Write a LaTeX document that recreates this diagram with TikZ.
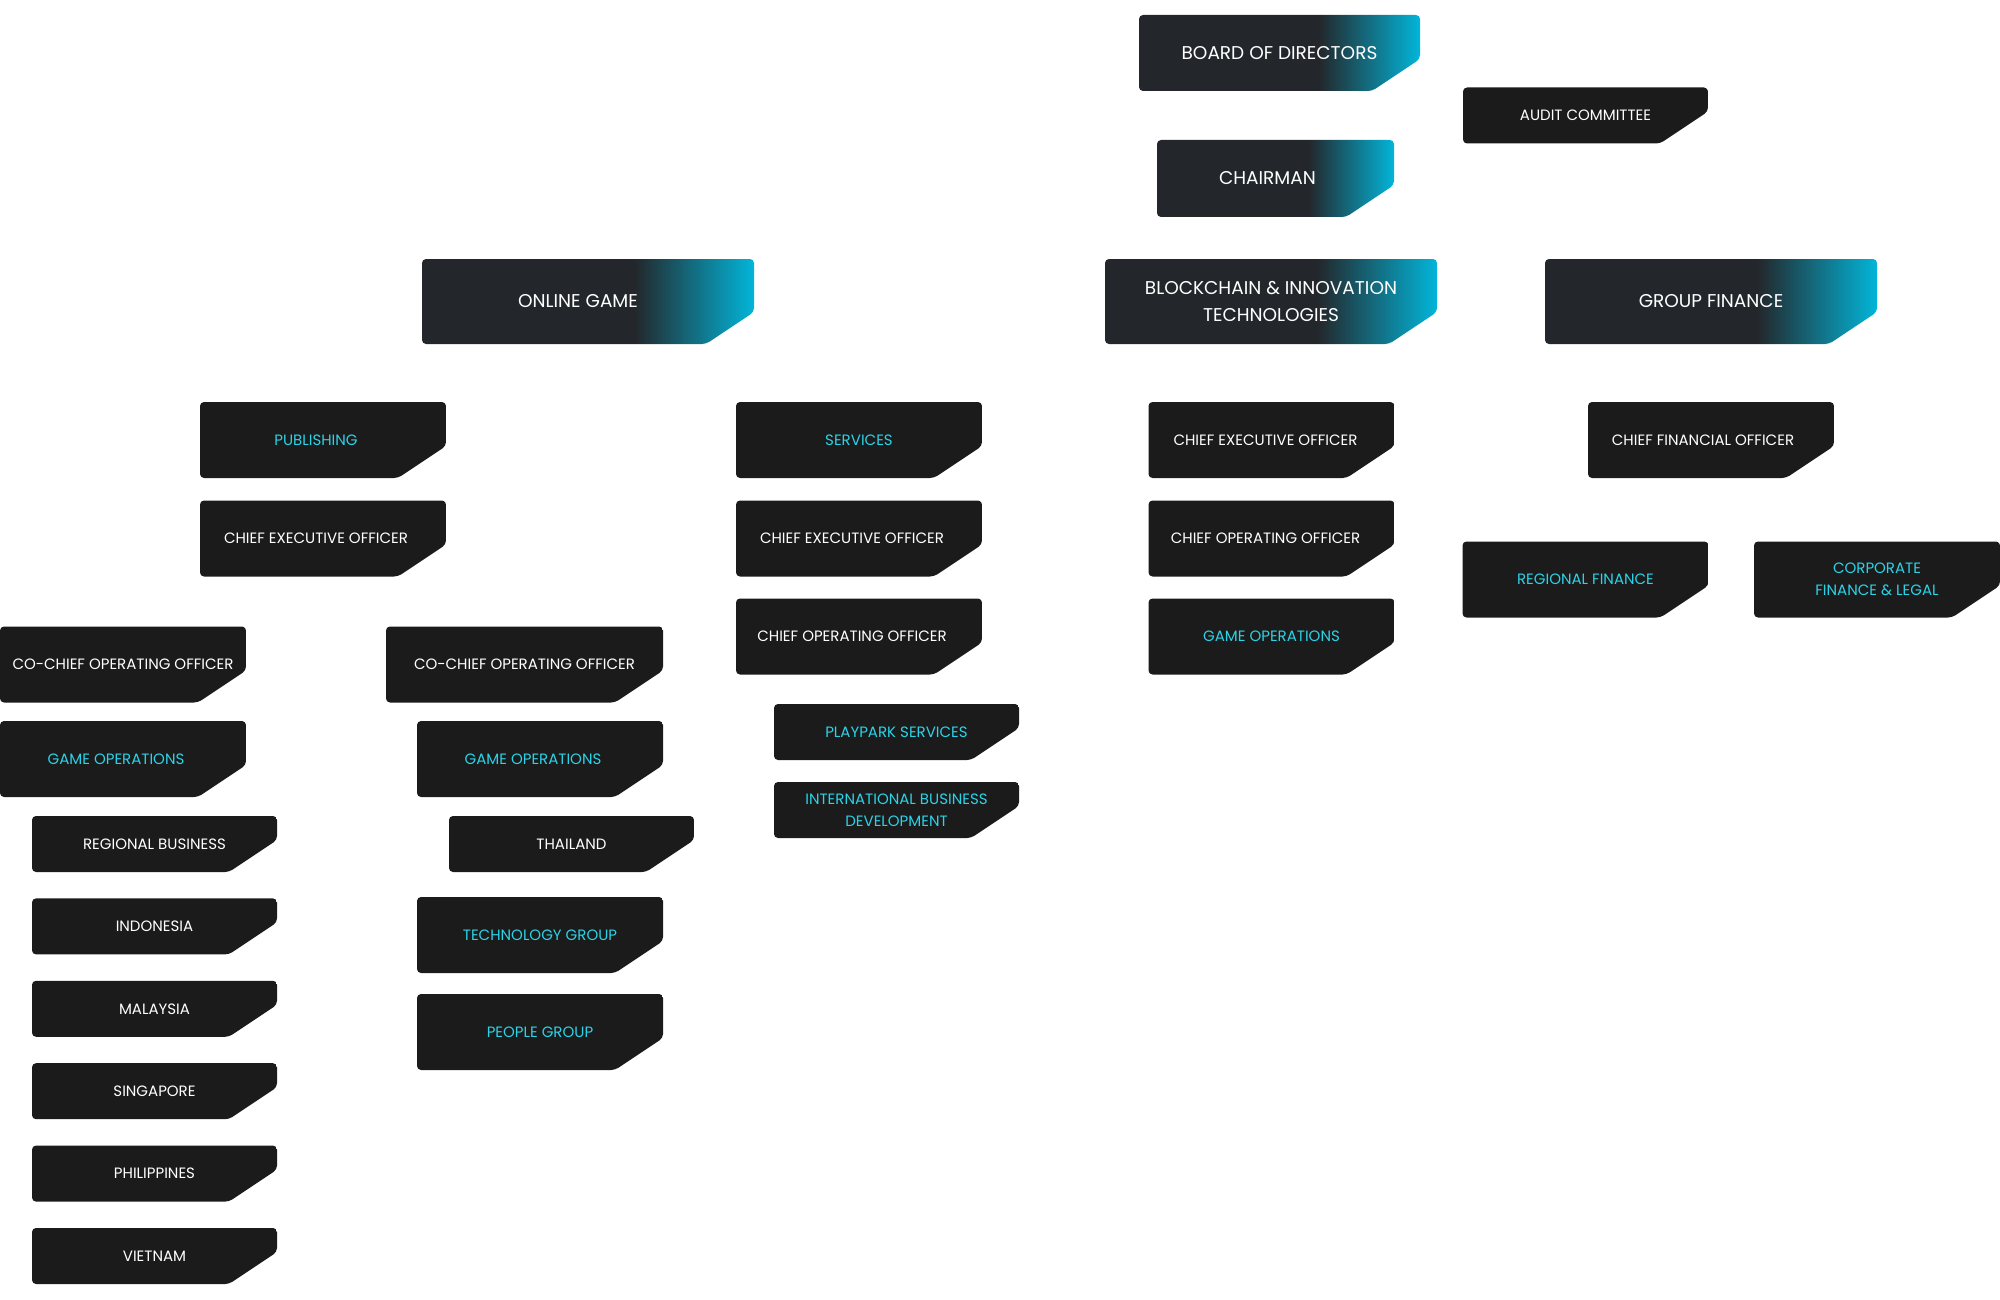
\documentclass[tikz,border=0pt]{standalone}
\usepackage{fontspec}
\setmainfont{Poppins}
\usetikzlibrary{positioning}

\definecolor{unitfill}{HTML}{1B1B1B}
\definecolor{headdark}{HTML}{23272B}
\definecolor{headcyan}{HTML}{02B5D9}
\definecolor{tealtext}{HTML}{2BD3E8}
\pgfdeclarehorizontalshading{bluetip}{100bp}{color(0bp)=(headdark); color(25bp)=(headdark); color(57bp)=(headdark); color(75bp)=(headcyan); color(100bp)=(headcyan)}

\begin{document}
\begin{tikzpicture}[
    x=1pt, y=-1pt,
    unit/.style={inner sep=0pt, rounded corners=4pt, minimum width=246pt, minimum height=76pt,
        font=\fontsize{15}{22}\selectfont, text=white,
        path picture={\fill[unitfill] (path picture bounding box.north west) -- (path picture bounding box.north east)
            -- ([yshift=32pt]path picture bounding box.south east) -- ([xshift=-48pt]path picture bounding box.south east)
            -- (path picture bounding box.south west) -- cycle;}},
    short/.style={unit, minimum width=245pt, minimum height=56pt},
    head/.style={unit, minimum width=332pt, minimum height=85pt, font=\fontsize{18.5}{27}\selectfont,
        path picture={\shade[shading=bluetip] (path picture bounding box.north west) -- (path picture bounding box.north east)
            -- ([yshift=32pt]path picture bounding box.south east) -- ([xshift=-48pt]path picture bounding box.south east)
            -- (path picture bounding box.south west) -- cycle;}},
    hl/.style={text=tealtext},
    nudge/.style={execute at end node={\hspace*{#1pt}}},
]
\useasboundingbox (0,0) rectangle (2000,1300);

% Board level
\node[head, minimum width=281pt, minimum height=76pt] (board) at (1279.5,53) {BOARD OF DIRECTORS};
\node[short] (audit) at (1585.5,115.5) {AUDIT COMMITTEE};
\node[head, minimum width=237pt, minimum height=77pt, nudge=16] (chairman) at (1275.5,178.5) {CHAIRMAN};

% Business groups
\node[head, nudge=20] (onlinegame) at (588,301.5) {ONLINE GAME};
\node[head, align=center] (blockchain) at (1271,301.5) {BLOCKCHAIN \& INNOVATION\\TECHNOLOGIES};
\node[head] (groupfin) at (1711,301.5) {GROUP FINANCE};

% Online game: publishing
\node[unit, hl, nudge=14] (publishing) at (323,440) {PUBLISHING};
\node[unit, nudge=14] (pub_ceo) at (323,538.5) {CHIEF EXECUTIVE OFFICER};
\node[unit] (pub_coo) at (123,664.5) {CO-CHIEF OPERATING OFFICER};
\node[unit, hl, nudge=14] (pub_gameops) at (123,759) {GAME OPERATIONS};
\foreach \i/\region in {0/REGIONAL BUSINESS, 1/INDONESIA, 2/MALAYSIA, 3/SINGAPORE, 4/PHILIPPINES, 5/VIETNAM} {
    \pgfmathsetmacro{\ypos}{844 + \i * 82.4}
    \node[short] (region_\i) at (154.5,\ypos) {\region};
}

% Second co-COO branch
\node[unit, minimum width=277pt] (mid_coo) at (524.5,664.5) {CO-CHIEF OPERATING OFFICER};
\node[unit, hl, nudge=14] (mid_gameops) at (540,759) {GAME OPERATIONS};
\node[short] (thailand) at (571.5,844) {THAILAND};
\node[unit, hl] (techgroup) at (540,935) {TECHNOLOGY GROUP};
\node[unit, hl] (peoplegroup) at (540,1032) {PEOPLE GROUP};

% Online game: services
\node[unit, hl] (services) at (859,440) {SERVICES};
\node[unit, nudge=14] (svc_ceo) at (859,538.5) {CHIEF EXECUTIVE OFFICER};
\node[unit, nudge=14] (svc_coo) at (859,636.5) {CHIEF OPERATING OFFICER};
\node[short, hl] (playpark) at (896.5,732) {PLAYPARK SERVICES};
\node[short, hl, align=center] (intlbiz) at (896.5,810) {INTERNATIONAL BUSINESS\\DEVELOPMENT};

% Blockchain & innovation
\node[unit, nudge=12] (bit_ceo) at (1271.5,440) {CHIEF EXECUTIVE OFFICER};
\node[unit, nudge=12] (bit_coo) at (1271.5,538.5) {CHIEF OPERATING OFFICER};
\node[unit, hl] (bit_gameops) at (1271.5,636.5) {GAME OPERATIONS};

% Group finance
\node[unit, nudge=16] (cfo) at (1711,440) {CHIEF FINANCIAL OFFICER};
\node[unit, hl] (regfin) at (1585.5,579.5) {REGIONAL FINANCE};
\node[unit, hl, align=center] (corpfin) at (1877,579.5) {CORPORATE\\FINANCE \& LEGAL};

\end{tikzpicture}
\end{document}
